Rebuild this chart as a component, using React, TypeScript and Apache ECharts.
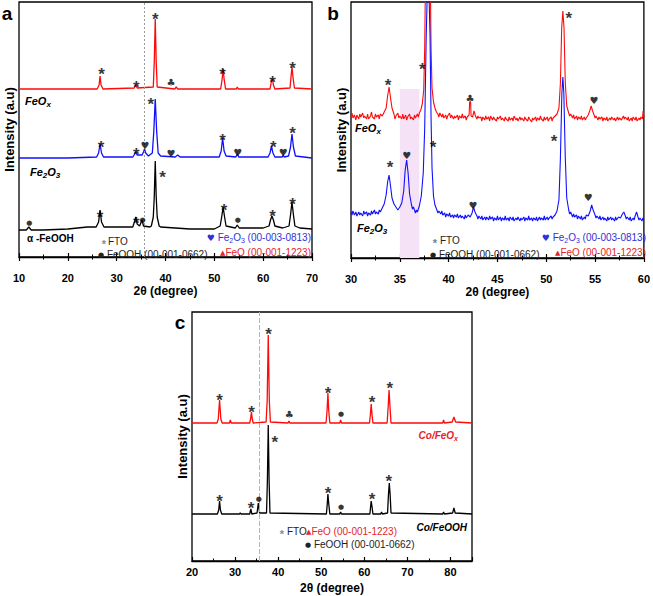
import React, { useEffect, useRef } from "react";
import * as echarts from "echarts";

const FONT = "Liberation Sans, Arial, Helvetica, sans-serif";
const SYM = "DejaVu Sans, Liberation Sans, sans-serif";

// ---------- Panel a (x: 2θ 10–70) ----------
const aTicks = { min: 10, max: 70, interval: 10 };
const aRed: number[][] = [
  [10, 168], [26, 168], [26.4, 172], [26.6, 181], [26.8, 172], [27.2, 168], [33.6, 169], [33.9, 172], [34.2, 169],
  [37.5, 170], [37.7, 195], [37.9, 238], [38.1, 195], [38.3, 170], [41.9, 168], [42.2, 170], [42.5, 168],
  [51.3, 168], [51.6, 178], [51.8, 188], [52, 178], [52.3, 168], [54.5, 168], [54.7, 170], [54.9, 168],
  [61.4, 168], [61.7, 176], [61.9, 178], [62.1, 172], [62.4, 168], [65.5, 169], [65.7, 180], [65.9, 190],
  [66.1, 180], [66.4, 169], [70, 168],
];
const aBlue: number[][] = [
  [10, 99], [20, 99], [25.9, 100], [26.3, 104], [26.6, 113], [26.9, 104], [27.3, 100], [33.3, 100], [33.7, 103],
  [33.9, 105], [34.2, 102], [35.2, 102], [35.5, 105], [35.7, 108], [35.95, 104], [36.5, 101], [37.3, 104],
  [37.6, 125], [37.9, 158], [38.2, 125], [38.5, 104], [39, 101], [42, 100], [42.5, 102], [43, 100], [51, 100],
  [51.4, 106], [51.7, 119], [52, 106], [52.4, 101], [54.4, 100], [54.7, 103], [55, 100], [61, 100], [61.4, 104],
  [61.7, 111], [62, 104], [62.4, 100], [63.9, 100], [64.1, 102], [64.3, 100], [65.2, 101], [65.6, 110],
  [65.9, 123], [66.2, 110], [66.6, 101], [70, 99],
];
const aBlack: number[][] = [
  [10, 27], [11.5, 27], [12, 30], [12.5, 27], [15, 27], [20, 28], [24, 30], [25.8, 30], [26.3, 35], [26.6, 47],
  [26.9, 35], [27.4, 30], [30, 30], [33.3, 30], [33.7, 36], [33.9, 40], [34.2, 33], [34.7, 31], [35.2, 37],
  [35.5, 31], [36.8, 30], [37.1, 31], [37.5, 40], [37.7, 60], [37.9, 96], [38.1, 60], [38.3, 40], [38.7, 31],
  [39, 30], [42, 29], [45, 28], [50, 28], [51.2, 31], [51.5, 40], [51.8, 50], [52.1, 40], [52.4, 31], [54.3, 29],
  [54.7, 32], [55.1, 29], [60, 29], [61.2, 31], [61.5, 37], [61.8, 41], [62.1, 37], [62.4, 31], [64, 29],
  [65.3, 31], [65.6, 42], [65.9, 55], [66.2, 42], [66.5, 31], [67.5, 29], [70, 28],
];
const aStarsRed = [[26.9, 188], [34, 175], [37.9, 243], [51.7, 188], [61.9, 180], [66, 194]];
const aClubsRed = [[41.1, 175]];
const aStarsBlue = [[26.8, 115], [34, 108], [37, 158], [51.7, 122], [62.1, 115], [66, 129]];
const aHeartsBlue = [[35.8, 112], [41.1, 104], [54.8, 105], [64.1, 105]];
const aStarsBlack = [[26.6, 45], [34, 39], [39.4, 85], [52, 52], [61.9, 46], [66, 58]];
const aDotsBlack = [[12.1, 34], [35.3, 37], [54.8, 37]];
const aRefLine = 35.7;

// ---------- Panel b (x: 2θ 30–60) ----------
const bTicks = { min: 30, max: 60, interval: 5 };
const bRed: number[][] = [
  [30, 141], [30.1, 145], [30.2, 140], [30.35, 143], [30.5, 138], [30.6, 143], [30.8, 139], [30.9, 144], [31, 141],
  [31.2, 145], [31.3, 140], [31.4, 142], [31.6, 139], [31.7, 144], [31.8, 139], [32, 142], [32.1, 146], [32.2, 141],
  [32.4, 139], [32.5, 144], [32.6, 141], [32.8, 143], [32.9, 139], [33, 144], [33.2, 142], [33.4, 146],
  [33.6, 150], [33.75, 162], [33.9, 171], [34.05, 160], [34.2, 150], [34.4, 144], [34.5, 139], [34.6, 142],
  [34.8, 145], [34.9, 140], [35, 142], [35.2, 139], [35.3, 144], [35.4, 139], [35.6, 143], [35.7, 138], [35.8, 141],
  [36, 144], [36.1, 139], [36.2, 141], [36.4, 138], [36.5, 143], [36.6, 140], [36.8, 144], [36.9, 141], [37, 145],
  [37.15, 148], [37.3, 154], [37.45, 168], [37.55, 210], [37.65, 300], [38.1, 300], [38.2, 210], [38.3, 170],
  [38.45, 156], [38.6, 150], [38.75, 146], [38.9, 144], [39, 141], [39.1, 145], [39.3, 141], [39.4, 144],
  [39.5, 140], [39.7, 143], [39.8, 139], [39.9, 142], [40.1, 145], [40.2, 140], [40.3, 143], [40.5, 139],
  [40.6, 142], [40.7, 140], [40.9, 143], [41, 138], [41.1, 142], [41.3, 140], [41.4, 144], [41.5, 140],
  [41.7, 142], [41.8, 138], [41.9, 141], [42.1, 143], [42.15, 156], [42.25, 156], [42.3, 142], [42.45, 141],
  [42.6, 147], [42.75, 142], [42.9, 139], [43, 142], [43.1, 140], [43.3, 141], [43.4, 137], [43.5, 141],
  [43.7, 138], [43.8, 142], [43.9, 139], [44.1, 141], [44.2, 137], [44.3, 142], [44.5, 138], [44.6, 141],
  [44.7, 139], [44.9, 137], [45, 141], [45.1, 139], [45.3, 142], [45.4, 138], [45.5, 140], [45.7, 137],
  [45.8, 141], [45.9, 139], [46.1, 137], [46.2, 141], [46.3, 138], [46.5, 140], [46.6, 137], [46.7, 142],
  [46.9, 138], [47, 140], [47.1, 137], [47.3, 141], [47.4, 138], [47.5, 140], [47.7, 137], [47.8, 141],
  [47.9, 139], [48.1, 137], [48.2, 141], [48.3, 139], [48.5, 136], [48.6, 140], [48.7, 138], [48.9, 141],
  [49, 137], [49.1, 140], [49.3, 138], [49.4, 142], [49.5, 139], [49.7, 137], [49.8, 141], [49.9, 138],
  [50.1, 141], [50.2, 137], [50.3, 139], [50.5, 141], [50.6, 137], [50.7, 140], [50.9, 142], [51.1, 144],
  [51.3, 150], [51.45, 175], [51.58, 230], [51.7, 247], [51.82, 230], [51.95, 175], [52.1, 152], [52.3, 145],
  [52.4, 142], [52.5, 144], [52.7, 140], [52.8, 143], [52.9, 139], [53.1, 142], [53.2, 138], [53.3, 141],
  [53.5, 139], [53.6, 142], [53.7, 138], [53.9, 141], [54, 138], [54.1, 140], [54.3, 143], [54.45, 147],
  [54.6, 152], [54.75, 147], [54.9, 143], [55, 140], [55.1, 142], [55.3, 138], [55.4, 141], [55.5, 139],
  [55.7, 141], [55.8, 137], [55.9, 140], [56.1, 138], [56.2, 141], [56.3, 137], [56.5, 140], [56.6, 138],
  [56.7, 141], [56.9, 138], [57, 140], [57.1, 137], [57.3, 141], [57.4, 138], [57.5, 140], [57.7, 138],
  [57.9, 142], [58, 139], [58.1, 141], [58.3, 138], [58.4, 141], [58.5, 137], [58.7, 140], [58.8, 137],
  [58.9, 141], [59.1, 138], [59.2, 141], [59.3, 137], [59.5, 140], [59.6, 138], [59.7, 141], [59.85, 139],
  [59.92, 147], [60, 141],
];
const bBlue: number[][] = [
  [30, 46], [30.1, 43], [30.2, 47], [30.35, 43], [30.5, 46], [30.6, 42], [30.8, 46], [30.9, 43], [31, 45],
  [31.2, 42], [31.3, 47], [31.4, 44], [31.6, 46], [31.7, 42], [31.8, 45], [32, 43], [32.1, 47], [32.2, 44],
  [32.4, 48], [32.5, 44], [32.6, 46], [32.8, 44], [32.9, 48], [33, 46], [33.2, 50], [33.4, 54],
  [33.6, 63], [33.75, 76], [33.9, 83], [34.05, 72], [34.2, 60], [34.4, 54], [34.6, 51], [34.8, 48], [35, 51],
  [35.2, 55], [35.4, 67], [35.55, 88], [35.7, 98], [35.85, 85], [36, 64], [36.2, 53], [36.3, 49], [36.4, 51],
  [36.6, 45], [36.7, 48], [36.8, 46], [37, 52], [37.2, 62], [37.4, 85], [37.55, 130], [37.7, 220], [37.9, 300],
  [38.1, 220], [38.2, 140], [38.3, 90], [38.45, 62], [38.6, 53], [38.8, 48], [38.9, 45], [39, 47], [39.2, 44],
  [39.3, 47], [39.4, 43], [39.6, 45], [39.7, 41], [39.8, 44], [40, 42], [40.1, 45], [40.2, 41], [40.4, 43],
  [40.5, 40], [40.6, 43], [40.8, 41], [40.9, 44], [41, 40], [41.2, 43], [41.3, 40], [41.4, 42], [41.6, 39],
  [41.7, 43], [41.8, 40], [42, 43], [42.2, 41], [42.4, 45], [42.55, 51], [42.7, 46], [42.9, 42], [43, 39],
  [43.1, 42], [43.3, 39], [43.4, 42], [43.5, 38], [43.7, 41], [43.8, 38], [43.9, 41], [44.1, 38], [44.2, 42],
  [44.3, 39], [44.5, 41], [44.6, 37], [44.7, 40], [44.9, 38], [45, 42], [45.1, 38], [45.3, 41], [45.4, 37],
  [45.5, 40], [45.7, 38], [45.8, 42], [45.9, 38], [46.1, 40], [46.2, 37], [46.3, 41], [46.5, 38], [46.6, 41],
  [46.7, 37], [46.9, 40], [47, 38], [47.1, 41], [47.3, 37], [47.4, 40], [47.5, 38], [47.7, 41], [47.8, 37],
  [47.9, 40], [48.1, 38], [48.2, 42], [48.3, 38], [48.5, 40], [48.6, 37], [48.7, 40], [48.9, 38], [49, 41],
  [49.1, 37], [49.3, 41], [49.4, 38], [49.5, 40], [49.7, 38], [49.8, 42], [49.9, 38], [50.1, 41], [50.2, 38],
  [50.3, 40], [50.5, 42], [50.6, 39], [50.7, 41], [50.9, 43], [51.1, 47], [51.3, 58], [51.45, 100], [51.6, 165],
  [51.7, 181], [51.8, 165], [51.95, 100], [52.1, 60], [52.3, 48], [52.4, 44], [52.5, 46], [52.7, 41],
  [52.8, 44], [52.9, 41], [53.1, 43], [53.2, 39], [53.3, 42], [53.5, 39], [53.6, 42], [53.7, 38], [53.9, 41],
  [54, 39], [54.1, 43], [54.3, 42], [54.5, 47], [54.65, 53], [54.8, 48], [55, 43], [55.1, 40], [55.2, 42],
  [55.4, 39], [55.5, 42], [55.6, 38], [55.8, 41], [55.9, 38], [56, 40], [56.2, 37], [56.3, 41], [56.4, 38],
  [56.6, 41], [56.7, 38], [56.8, 40], [57, 37], [57.1, 41], [57.2, 38], [57.4, 41], [57.6, 40], [57.8, 44],
  [57.95, 46], [58.1, 42], [58.2, 39], [58.3, 41], [58.5, 38], [58.6, 41], [58.7, 37], [58.9, 40], [59, 38],
  [59.1, 42], [59.25, 46], [59.4, 41], [59.5, 38], [59.6, 40], [59.8, 37], [59.9, 40], [60, 38],
];
const bStarsRed = [[33.8, 178], [37.3, 194], [52.3, 245]];
const bClubsRed = [[42.2, 160]];
const bHeartsRed = [[54.9, 158]];
const bStarsBlue = [[34, 96], [38.4, 116], [50.8, 122]];
const bHeartsBlue = [[35.7, 103], [42.5, 53], [54.3, 61]];
const bShade = { from: 35, to: 37, top: 169 };

// ---------- Panel c (x: 2θ 20–85) ----------
const cTicks = { min: 20, max: 85, interval: 10 };
const cRed: number[][] = [
  [20, 138], [25.8, 138], [26.1, 142], [26.4, 161], [26.7, 142], [27, 138], [28.7, 138], [28.9, 141], [29.1, 138],
  [33.4, 138], [33.6, 142], [33.8, 149], [34, 142], [34.2, 138], [37.2, 139], [37.45, 160], [37.7, 226],
  [37.95, 160], [38.2, 139], [42.3, 138], [42.5, 140], [42.7, 138], [51.1, 138], [51.35, 150], [51.55, 168],
  [51.75, 150], [52, 138], [54.3, 138], [54.5, 141], [54.7, 138], [61.2, 138], [61.4, 146], [61.6, 157],
  [61.8, 146], [62, 138], [65.3, 138], [65.55, 155], [65.75, 171], [65.95, 155], [66.2, 138], [78.2, 138],
  [78.4, 141], [78.6, 138], [80.4, 139], [80.8, 144], [81.2, 139], [85, 138],
];
const cBlack: number[][] = [
  [20, 47], [25.9, 47], [26.2, 51], [26.4, 60], [26.6, 51], [26.9, 47], [31, 47], [31.2, 48], [31.4, 47],
  [33.4, 47], [33.65, 52], [33.9, 47], [35.1, 48], [35.4, 58], [35.7, 48], [37.3, 48], [37.5, 80], [37.7, 136],
  [37.9, 80], [38.1, 48], [51.2, 47], [51.4, 57], [51.55, 67], [51.75, 57], [52, 47], [54.3, 47], [54.5, 49],
  [54.7, 47], [61.3, 47], [61.45, 54], [61.6, 60], [61.8, 54], [62, 47], [63.8, 47], [64, 49], [64.2, 47],
  [65.4, 48], [65.6, 66], [65.8, 78], [66, 66], [66.2, 48], [78.2, 47], [78.4, 49], [78.6, 47], [80.5, 48],
  [80.8, 53], [81.1, 48], [85, 47],
];
const cStarsRed = [[26.4, 166], [33.8, 154], [37.8, 232], [51.6, 173], [61.8, 164], [65.9, 178]];
const cClubsRed = [[42.6, 147]];
const cDotsRed = [[54.6, 147]];
const cStarsBlack = [[26.4, 65], [33.7, 58], [39.2, 124], [51.6, 73], [61.8, 67], [65.7, 85]];
const cDotsBlack = [[35.5, 62], [54.6, 54]];
const cRefLine = 35.5;

const RED = "#ff0a0a";
const BLUE = "#1010ff";
const TXT_RED = "#e5252a";
const TXT_BLUE = "#3030d8";

function lineSeries(data: number[][], color: string, idx: number, width: number, extra: any = {}) {
  return {
    type: "line", xAxisIndex: idx, yAxisIndex: idx, data, showSymbol: false, symbol: "none",
    lineStyle: { color, width }, clip: true, z: 3, silent: true, ...extra,
  };
}

const glyphs: Record<string, { ch: string; size: number; font: string; dy: number }> = {
  star: { ch: "*", size: 17, font: FONT, dy: 5 },
  heart: { ch: "♥", size: 10, font: SYM, dy: 0 },
  club: { ch: "♣", size: 10, font: SYM, dy: 0 },
  dot: { ch: "●", size: 7, font: SYM, dy: 0 },
};

function glyphSeries(data: number[][], kind: string, idx: number, color = "#000") {
  const g = glyphs[kind];
  return {
    type: "scatter", xAxisIndex: idx, yAxisIndex: idx, data, symbol: "circle", symbolSize: 1,
    itemStyle: { color: "rgba(0,0,0,0)" }, silent: true, z: 6,
    label: {
      show: true, position: "inside", formatter: g.ch, color, fontSize: g.size, fontFamily: g.font,
      fontWeight: "bold", offset: [0, g.dy],
    },
  };
}

function bottomAxis(gi: number, t: any, margin: number, nameGap: number, hideNon10 = false) {
  return {
    type: "value", gridIndex: gi, min: t.min, max: t.max, interval: t.interval, position: "bottom",
    axisLine: { show: true, onZero: false, lineStyle: { color: "#000", width: 1.3 } },
    axisTick: { show: true, inside: true, length: 4, lineStyle: { color: "#000", width: 1.2 } },
    minorTick: { show: true, splitNumber: 2, length: 2.5, lineStyle: { color: "#000", width: 1 } },
    splitLine: { show: false },
    axisLabel: {
      margin, fontSize: 11, fontWeight: "bold", color: "#000", fontFamily: FONT,
      formatter: (v: number) => (hideNon10 && v % 10 !== 0 ? "" : String(v)),
    },
    name: "2θ (degree)", nameLocation: "middle", nameGap,
    nameTextStyle: { fontSize: 12, fontWeight: "bold", color: "#000", fontFamily: FONT },
  };
}

function topAxis(gi: number, t: any) {
  return {
    type: "value", gridIndex: gi, min: t.min, max: t.max, interval: t.interval, position: "top",
    axisLine: { show: false }, axisLabel: { show: false }, splitLine: { show: false },
    axisTick: { show: true, inside: true, length: 4, lineStyle: { color: "#000", width: 1.2 } },
    minorTick: { show: true, splitNumber: 2, length: 2.5, lineStyle: { color: "#000", width: 1 } },
  };
}

function yAxis(gi: number, max: number) {
  return {
    type: "value", gridIndex: gi, min: 0, max, axisLine: { show: false }, axisTick: { show: false },
    axisLabel: { show: false }, splitLine: { show: false },
    name: "Intensity (a.u)", nameLocation: "middle", nameGap: 3,
    nameTextStyle: { fontSize: 13, fontWeight: "bold", color: "#000", fontFamily: FONT },
  };
}

function txt(x: number, y: number, text: string, rich: any, align = "left", fill = "#222") {
  return {
    type: "text", x, y, silent: true, z: 10,
    style: { text, rich, align, verticalAlign: "middle", fill, font: `10px ${FONT}` },
  };
}

function richSet(color: string, size: number, bold: boolean, italic: boolean) {
  const base = {
    fill: color, fontSize: size, fontFamily: FONT, fontWeight: bold ? "bold" : "normal",
    fontStyle: italic ? "italic" : "normal", verticalAlign: "top",
  };
  return {
    t: base,
    s: { ...base, fontSize: Math.round(size * 0.72), padding: [Math.round(size * 0.45), 0, 0, 0] },
    g: { fill: color, fontSize: 9, fontFamily: SYM, verticalAlign: "top", padding: [1, 0, 0, 0] },
    tri: { fill: color, fontSize: 7, fontFamily: SYM, verticalAlign: "top", padding: [2, 0, 0, 0] },
    dot: { fill: color, fontSize: 7, fontFamily: SYM, verticalAlign: "top", padding: [2, 0, 0, 0] },
  };
}

function star(x: number, y: number, color = "#8a8a8a") {
  return {
    type: "text", x, y: y + 3, silent: true, z: 10,
    style: { text: "*", align: "center", verticalAlign: "middle", fill: color, font: `bold 11px ${FONT}` },
  };
}

export default function App() {
  const ref = useRef<HTMLDivElement>(null);
  useEffect(() => {
    if (!ref.current) return;
    const chart = echarts.init(ref.current, null, { renderer: "svg" });
    const legendBlue = "{g|♥} {t|Fe}{s|2}{t|O}{s|3}{t| (00-003-0813)}";
    const legendRed = "{tri|▲}{t|FeO (00-001-1223)}";
    const letter = { L: { fill: "#000", fontSize: 19, fontWeight: "bold", fontFamily: FONT } };
    const option: any = {
      animation: false,
      backgroundColor: "#fff",
      grid: [
        { left: 19, top: 2, width: 293, height: 255, show: true, borderColor: "#000", borderWidth: 1.3 },
        { left: 351, top: 2, width: 295, height: 256, show: true, borderColor: "#000", borderWidth: 1.3 },
        { left: 192, top: 312, width: 280, height: 249, show: true, borderColor: "#000", borderWidth: 1.3 },
      ],
      xAxis: [
        bottomAxis(0, aTicks, 15, 28),
        bottomAxis(1, bTicks, 15, 28),
        bottomAxis(2, cTicks, 5, 21, true),
        topAxis(0, aTicks),
        topAxis(1, bTicks),
      ],
      yAxis: [yAxis(0, 255), yAxis(1, 256), yAxis(2, 249)],
      series: [
        // panel a
        lineSeries(aRed, RED, 0, 1.3),
        lineSeries(aBlue, BLUE, 0, 1.3),
        lineSeries(aBlack, "#000", 0, 1.3, {
          markLine: {
            symbol: "none", silent: true, label: { show: false },
            lineStyle: { color: "#9a9a9a", type: [2, 2], width: 1 }, data: [{ xAxis: aRefLine }],
          },
        }),
        glyphSeries(aStarsRed, "star", 0), glyphSeries(aClubsRed, "club", 0),
        glyphSeries(aStarsBlue, "star", 0), glyphSeries(aHeartsBlue, "heart", 0),
        glyphSeries(aStarsBlack, "star", 0), glyphSeries(aDotsBlack, "dot", 0),
        // panel b
        {
          type: "line", xAxisIndex: 1, yAxisIndex: 1, data: [], z: 1, silent: true,
          markArea: {
            silent: true, itemStyle: { color: "#f6e2f6" },
            data: [[{ xAxis: bShade.from, yAxis: 0 }, { xAxis: bShade.to, yAxis: bShade.top }]],
          },
        },
        lineSeries(bRed, RED, 1, 1.1),
        lineSeries(bBlue, BLUE, 1, 1.1),
        glyphSeries(bStarsRed, "star", 1), glyphSeries(bClubsRed, "club", 1), glyphSeries(bHeartsRed, "heart", 1),
        glyphSeries(bStarsBlue, "star", 1), glyphSeries(bHeartsBlue, "heart", 1),
        // panel c
        lineSeries(cRed, RED, 2, 1.3),
        lineSeries(cBlack, "#000", 2, 1.3, {
          markLine: {
            symbol: "none", silent: true, label: { show: false },
            lineStyle: { color: "#b5b5b5", type: [5, 2], width: 1 }, data: [{ xAxis: cRefLine }],
          },
        }),
        glyphSeries(cStarsRed, "star", 2), glyphSeries(cClubsRed, "club", 2), glyphSeries(cDotsRed, "dot", 2),
        glyphSeries(cStarsBlack, "star", 2), glyphSeries(cDotsBlack, "dot", 2),
      ],
      graphic: [
        // panel letters
        txt(7, 13, "{L|a}", letter, "center"),
        txt(333, 13, "{L|b}", letter, "center"),
        txt(180, 322, "{L|c}", letter, "center"),
        // panel a sample labels
        txt(25, 102, "{t|FeO}{s|x}", richSet("#000", 11, true, true)),
        txt(30, 173, "{t|Fe}{s|2}{t|O}{s|3}", richSet("#000", 11, true, true)),
        txt(27, 238, "{t|α -FeOOH}", richSet("#000", 10, true, false)),
        // panel a legend
        star(104, 241),
        txt(108, 241, "{t|FTO}", richSet("#222", 10, false, false)),
        txt(98, 254, "{dot|●} {t|FeOOH (00-001-0662)}", richSet("#222", 10, false, false)),
        txt(311, 238, legendBlue, richSet(TXT_BLUE, 10, false, false), "right"),
        txt(311, 252, legendRed, richSet(TXT_RED, 10, false, false), "right"),
        // panel b sample labels
        txt(355, 129, "{t|FeO}{s|x}", richSet("#000", 11, true, true)),
        txt(357, 229, "{t|Fe}{s|2}{t|O}{s|3}", richSet("#000", 11, true, true)),
        // panel b legend
        star(435, 240, "#7a7a9a"),
        txt(440, 240, "{t|FTO}", richSet("#222", 10, false, false)),
        txt(430, 254, "{dot|●} {t|FeOOH (00-001-0662)}", richSet("#222", 10, false, false)),
        txt(646, 238, legendBlue, richSet(TXT_BLUE, 10, false, false), "right"),
        txt(646, 252, legendRed, richSet(TXT_RED, 10, false, false), "right"),
        // panel c sample labels
        txt(458, 436, "{t|Co/FeO}{s|x}", richSet(TXT_RED, 10, true, true), "right"),
        txt(467, 527, "{t|Co/FeOOH}", richSet("#000", 10, true, true), "right"),
        // panel c legend
        star(282, 531),
        txt(287, 531, "{t|FTO}", richSet("#222", 10, false, false)),
        txt(306, 531, legendRed, richSet(TXT_RED, 10, false, false)),
        txt(305, 544, "{dot|●} {t|FeOOH (00-001-0662)}", richSet("#222", 10, false, false)),
      ],
    };
    chart.setOption(option);
    return () => chart.dispose();
  }, []);
  return (
    <div
      ref={ref}
      style={{ position: "absolute", left: 0, top: 0, width: 653, height: 596, background: "#fff" }}
    />
  );
}
